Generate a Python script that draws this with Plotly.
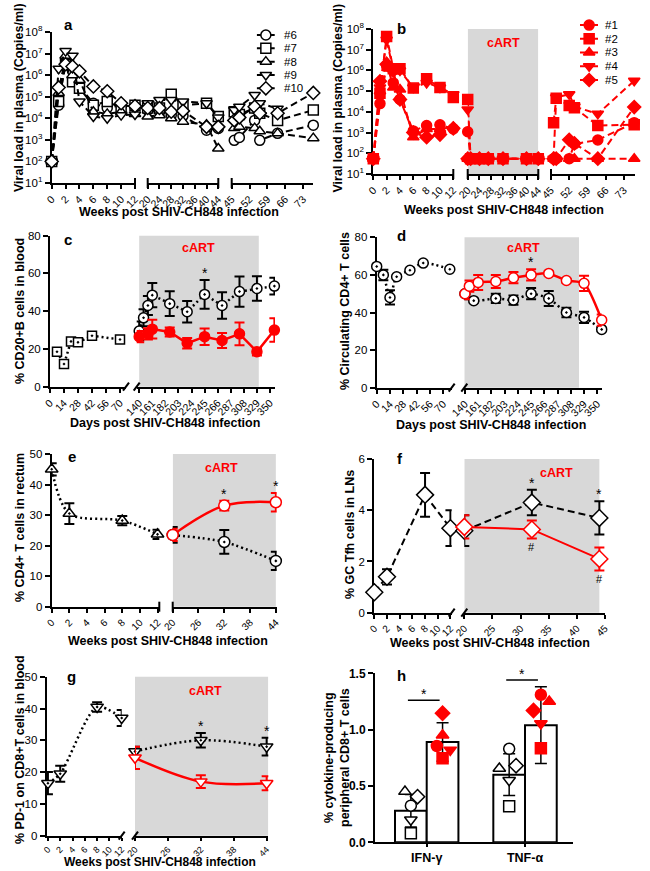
import math
import plotly.graph_objects as go

W, H = 650, 871
FONT = "Arial, Liberation Sans, Helvetica, sans-serif"
BLACK = "#000000"
RED = "#FF0000"
GREY = "#D8D8D8"
DASH = "7px,4px"
DOT = "2px,3px"

# ============================ DATA ============================
# (a) untreated animals #6-#10, plasma viral load (copies/ml)
a_weeks = [0, 1, 2, 3, 4, 6, 8, 10, 12, 20, 24, 28, 32, 40, 44, 46, 48, 54, 56, 63, 77]
a_lod = 100
a_ids = ["#6", "#7", "#8", "#9", "#10"]
a_vl6 = [100, 4e4, 5e6, 1.5e6, 3e5, 5e4, 3e4, 4e4, 3.5e4, 2.4e4, 2e4, 1.4e4, 1.3e4, 2.8e3, 3.4e3, 950, 1.3e3, 8e3, 950, 2e3, 4.8e3]
a_vl7 = [100, 6e4, 3e6, 5e5, 2.5e5, 4e4, 6e4, 3e4, 4e4, 3e4, 3e4, 1.3e5, 4e4, 5e4, 1.2e4, 2e4, 1.5e4, 3e4, 1.7e4, 8e3, 2.4e4]
a_vl8 = [100, 1.5e5, 8e6, 1e6, 6e5, 2e4, 1.6e4, 2e4, 1.6e4, 1.2e4, 1.4e4, 1e4, 7e3, 5e3, 400, 3.5e3, 4e3, 3.5e3, 2.5e3, 2e3, 1.2e3]
a_vl9 = [100, 2e6, 1.3e7, 8e6, 6e4, 1.2e4, 1e4, 1.4e4, 1.5e4, 5e4, 7e4, 7e4, 6e4, 5e4, 1.1e4, 2.4e4, 3.4e4, 1.2e5, 5e4, 2.8e4, None]
a_vl10 = [100, 2.7e5, 3.2e6, 2.5e6, 1.5e6, 3e5, 1.8e5, 5e4, 3.7e4, 3e4, 3e4, 2e4, 2.2e4, 4e3, 4e3, 8e3, 1.1e4, 3.4e4, 1.7e4, 1.7e4, 1.5e5]

# (b) cART-treated animals #1-#5
b_weeks = [0, 1, 2, 3, 4, 6, 8, 10, 12, 20, 21, 24, 27, 32, 40, 44, 46, 47, 52, 54, 63, 77]
b_lod = 55
b_ids = ["#1", "#2", "#3", "#4", "#5"]
b_vl1 = [55, 2.5e4, 1.7e6, 2.5e5, 4e4, 1.2e3, 2.2e3, 2.4e3, 1.5e3, 1.1e3, 55, 55, 55, 55, 55, 55, 55, 55, 55, 280, 440, 3e3]
b_vl2 = [55, 8e4, 4.4e7, 1.2e6, 1.2e6, 1.4e5, 4e5, 1.5e5, 5e4, 4e4, 55, 55, 55, 55, 55, 55, 3e3, 4.5e4, 2e4, 1.6e4, 2.2e3, 2.4e3]
b_vl3 = [55, 1e5, 2.5e6, 1.5e5, 1.2e5, 600, 1.5e3, 1.5e3, 1.8e3, 55, 55, 55, 55, 55, 55, 55, 55, 55, 55, 55, 55, 55]
b_vl4 = [55, 1.5e5, 3e7, 1e6, 1e6, 1.5e5, 2.5e5, 1.5e5, 7e4, 1.3e4, 55, 55, 55, 55, 55, 55, 55, 5e4, 7e4, 1.8e4, 8e3, 3.2e5]
b_vl5 = [55, 3e5, 2e6, 1e6, 4e4, 1e3, 600, 800, 1.6e3, 55, 55, 55, 55, 55, 55, 55, 55, 55, 450, 300, 55, 1.7e4]
b_cart = [20, 44]

# (c) % CD20+ B cells in blood (days)
c_days_pre = [7, 14, 21, 28, 42, 70]
c_pre = [18.5, 12, 24, 23.5, 27, 25]
c_days_untx = [140, 147, 154, 161, 189, 217, 245, 273, 301, 329, 357]
c_untx = [29.5, 36.5, 43, 48.5, 44, 39.7, 48.9, 43, 50.4, 52, 53.3]
c_untx_sd = [5, 4.5, 5, 6.4, 6.6, 5.7, 7.6, 7, 8, 6.5, 4.4]
c_days_cart = [140, 154, 161, 189, 217, 245, 273, 301, 329, 357]
c_cart = [26.5, 28, 30.5, 29, 23, 26.5, 24.5, 28, 18.5, 30]
c_cart_sd = [3, 3, 5, 2.4, 2.8, 4.4, 4, 6, 2, 6.2]
c_star_days = [245]
c_cart_period = [140, 332]

# (d) % circulating CD4+ T cells (days)
d_days_pre = [0, 7, 14, 21, 35, 49, 77]
d_pre = [64.5, 60, 48, 59, 62.5, 66.3, 63]
d_pre_sd = [0, 2.8, 3.8, 0, 0, 0, 0]
d_days_untx = [140, 154, 189, 217, 245, 273, 301, 329, 357]
d_untx = [50, 46.3, 47.5, 46.6, 50, 47.5, 40, 37.4, 31]
d_untx_sd = [3, 1, 2.5, 2.5, 3, 4, 2.5, 3, 1]
d_days_cart = [140, 147, 161, 189, 217, 245, 273, 301, 329, 357]
d_cart = [50, 54, 56, 56.5, 58.5, 60, 60.8, 57, 55.5, 36]
d_cart_sd = [3, 3, 4, 3.5, 3, 3, 1, 1, 4, 3]
d_star_days = [245]
d_cart_period = [139, 321]

# (e) % CD4+ T cells in rectum (weeks)
e_wk_pre = [0, 2, 8, 12]
e_pre = [45, 30.5, 28.2, 23.7]
e_pre_sd = [2, 3.4, 1.5, 1.5]
e_wk_post = [20, 32, 44]
e_untx = [23.5, 21.2, 15]
e_untx_sd = [2.6, 3.9, 3]
e_cart = [23.5, 33.1, 34.2]
e_cart_sd = [2, 1.6, 3]
e_star_wk = [32, 44]
e_cart_period = [20, 44]

# (f) % GC Tfh cells in LNs (weeks)
f_wk_pre = [0, 2, 8, 12]
f_pre = [0.8, 1.4, 4.6, 3.3]
f_pre_sd = [0.05, 0.3, 0.85, 0.7]
f_wk_post = [20, 32, 44]
f_untx = [3.2, 4.3, 3.7]
f_untx_sd = [0.6, 0.5, 0.65]
f_cart = [3.35, 3.25, 2.1]
f_cart_sd = [0.45, 0.35, 0.45]
f_star_wk = [32, 44]
f_hash_wk = [32, 44]
f_cart_period = [20, 44]

# (g) % PD-1 on CD8+ T cells in blood (weeks)
g_wk_pre = [0, 2, 8, 12]
g_pre = [16.5, 19.5, 40.5, 37]
g_pre_sd = [3.5, 2.5, 1.5, 2.5]
g_wk_post = [20, 32, 44]
g_untx = [26.5, 30, 28]
g_untx_sd = [1.5, 2.3, 2.8]
g_cart = [24.5, 17, 16.5]
g_cart_sd = [3.5, 2, 2.2]
g_star_wk = [32, 44]
g_cart_period = [20, 44.3]

# (h) % cytokine-producing peripheral CD8+ T cells
h_cats = ["IFN-γ", "TNF-α"]
h_bar_untx = [0.28, 0.60]
h_sd_untx = [0.145, 0.185]
h_bar_cart = [0.89, 1.04]
h_sd_cart = [0.17, 0.34]
h_ifn_untx = [0.325, 0.08, 0.45, 0.2, 0.405]    # #6..#10
h_ifn_cart = [0.855, 0.745, 0.95, 0.82, 1.145]  # #1..#5
h_tnf_untx = [0.83, 0.32, 0.655, 0.55, 0.68]
h_tnf_cart = [1.31, 0.835, 1.25, 1.055, 1.17]
h_sig_y = [1.26, 1.44]

# ============================ HELPERS ============================
fig = go.Figure()
L = dict(width=W, height=H, margin=dict(l=0, r=0, t=0, b=0, pad=0), template="none",
         paper_bgcolor="white", plot_bgcolor="rgba(0,0,0,0)", showlegend=False,
         barmode="overlay", font=dict(family=FONT, color=BLACK, size=11))
shapes, annos = [], []

TITLE = 12.5


def fx(p):
    return p / W


def fy(p):
    return 1 - p / H


def akey(ref):
    return ("xaxis" if ref[0] == "x" else "yaxis") + ref[1:]


TFX = dict(family=FONT, size=10.5, color=BLACK)
TFY = dict(family=FONT, size=11.5, color=BLACK)


def set_x(ref, a, b, rng, vals, anchor, angle=-45, text=None, font=None, ticklen=4):
    L[akey(ref)] = dict(domain=[a / W, b / W], range=rng, anchor=anchor, showline=True, linewidth=2,
                        linecolor=BLACK, ticks="outside", ticklen=ticklen, tickwidth=2, tickcolor=BLACK,
                        tickmode="array", tickvals=vals,
                        ticktext=text if text else [str(v) for v in vals],
                        tickangle=angle, tickfont=font or TFX, showgrid=False, zeroline=False,
                        automargin=False, layer="below traces")


def set_y(ref, t, b, rng, vals, anchor, text=None, typ="linear", font=None):
    L[akey(ref)] = dict(domain=[1 - b / H, 1 - t / H], range=rng, type=typ, anchor=anchor,
                        showline=True, linewidth=2, linecolor=BLACK, ticks="outside", ticklen=5,
                        tickwidth=2, tickcolor=BLACK, tickmode="array", tickvals=vals,
                        ticktext=text if text else [str(v) for v in vals], tickfont=font or TFY,
                        showgrid=False, zeroline=False, automargin=False, layer="below traces")


def hidden_axes(xref, yref, xa, xb, yt, yb, yrange):
    L[akey(xref)] = dict(domain=[xa / W, xb / W], range=[0, 1], anchor=yref, visible=False,
                         showticklabels=False, showgrid=False, zeroline=False)
    L[akey(yref)] = dict(domain=[1 - yb / H, 1 - yt / H], range=yrange, anchor=xref, visible=False,
                         showticklabels=False, showgrid=False, zeroline=False)


def split(xs, ys, lo, hi):
    ox, oy = [], []
    for x, y in zip(xs, ys):
        if lo <= x <= hi:
            ox.append(x)
            oy.append(y)
    return ox, oy


def series(x, y, xr, yr, color, symbol, size, fill, dash="solid", width=2, shape="linear",
           err=None, mlw=1.5, mode="lines+markers", smoothing=1.0):
    line = dict(color=color, width=width, dash=dash, shape=shape)
    if shape == "spline":
        line["smoothing"] = smoothing
    kw = dict(x=x, y=y, xaxis=xr, yaxis=yr, mode=mode, line=line,
              marker=dict(symbol=symbol, size=size, color=fill, line=dict(color=color, width=mlw)),
              cliponaxis=False, hoverinfo="skip", showlegend=False)
    if err is not None:
        kw["error_y"] = dict(type="data", array=err, visible=True, color=color, thickness=2, width=5)
    fig.add_trace(go.Scatter(**kw))


def text(x, y, s, size=TITLE, color=BLACK, bold=True, angle=0, xanchor="center", yanchor="middle"):
    annos.append(dict(xref="paper", yref="paper", x=fx(x), y=fy(y), text=s, showarrow=False,
                      textangle=angle, xanchor=xanchor, yanchor=yanchor,
                      font=dict(family=FONT, size=size, color=color,
                                weight="bold" if bold else "normal")))


def mark(xr, yr, x, y, s, size=14, yanchor="bottom", yshift=-3):
    annos.append(dict(xref=xr, yref=yr, x=x, y=y, text=s, showarrow=False, xanchor="center",
                      yanchor=yanchor, yshift=yshift,
                      font=dict(family=FONT, size=size, color=BLACK)))


def cart_rect(xr, yr, period):
    shapes.append(dict(type="rect", xref=xr, yref=yr + " domain", x0=period[0], x1=period[1],
                       y0=0, y1=1, fillcolor=GREY, line=dict(width=0), layer="below"))


def end_bar(px, py):
    shapes.append(dict(type="line", xref="paper", yref="paper", x0=fx(px), x1=fx(px),
                       y0=fy(py - 5), y1=fy(py + 5), line=dict(color=BLACK, width=2)))


def slash(px, py):
    shapes.append(dict(type="line", xref="paper", yref="paper", x0=fx(px - 3), x1=fx(px + 3),
                       y0=fy(py + 4), y1=fy(py - 4), line=dict(color=BLACK, width=2)))


def top_of(xs, vals, sds, x):
    i = xs.index(x)
    return vals[i] + sds[i]


SYM = ["circle", "square", "triangle-up", "triangle-down", "diamond"]

# ============================ PANEL a ============================
LOGT = [10 ** k for k in range(1, 9)]
LOGTXT = [f"10<sup>{k}</sup>" for k in range(1, 9)]
set_y("y", 32, 183, [1, 8], LOGT, "x", text=LOGTXT, typ="log")
set_x("x", 51.7, 135, [0, 12], [0, 2, 4, 6, 8, 10, 12], "y")
set_x("x2", 147.7, 218.3, [20, 44], [20, 24, 28, 32, 36, 40, 44], "y")
set_x("x3", 231.7, 313.3, [45, 77], [45, 52, 59, 66, 73], "y")
shapes.append(dict(type="line", xref="paper", yref="y", x0=fx(51.7), x1=fx(318),
                   y0=math.log10(a_lod), y1=math.log10(a_lod),
                   line=dict(color=BLACK, width=2, dash="dot"), layer="below"))
for vals, sym in zip([a_vl6, a_vl7, a_vl8, a_vl9, a_vl10], SYM):
    for xr, lo, hi in [("x", 0, 12), ("x2", 20, 44), ("x3", 45, 80)]:
        xs, ys = split(a_weeks, vals, lo, hi)
        series(xs, ys, xr, "y", BLACK, sym, 10, "white", dash=DASH, width=2)
for p in [135, 147.7, 218.3, 231.7]:
    end_bar(p, 183)
# legend a
hidden_axes("x18", "y9", 256.7, 275, 28.3, 95, [4.5, -0.5])
for i, (sym, name) in enumerate(zip(SYM, a_ids)):
    series([0, 1], [i, i], "x18", "y9", BLACK, sym, 10, "white", dash=DASH, mode="lines")
    series([0.5], [i], "x18", "y9", BLACK, sym, 10, "white", mode="markers")
    annos.append(dict(xref="x18", yref="y9", x=1, y=i, text=name, showarrow=False, xanchor="left",
                      xshift=7, font=dict(family=FONT, size=11.5, color=BLACK)))
text(19, 98, "Viral load in plasma (Copies/ml)", angle=-90)
text(179, 212, "Weeks post SHIV-CH848 infection")
text(68, 25, "a", size=15)

# ============================ PANEL b ============================
set_y("y2", 29, 174, [1, 8], LOGT, "x4", text=LOGTXT, typ="log")
set_x("x4", 373.3, 453.3, [0, 12], [0, 2, 4, 6, 8, 10, 12], "y2")
set_x("x5", 467.7, 538.3, [20, 44], [20, 24, 28, 32, 36, 40, 44], "y2")
set_x("x6", 551, 635, [45, 77.3], [45, 52, 59, 66, 73], "y2")
cart_rect("x5", "y2", b_cart)
shapes.append(dict(type="line", xref="paper", yref="y2", x0=fx(373.3), x1=fx(640),
                   y0=math.log10(b_lod), y1=math.log10(b_lod),
                   line=dict(color=BLACK, width=2, dash="dot"), layer="below"))
for vals, sym in zip([b_vl1, b_vl2, b_vl3, b_vl4, b_vl5], SYM):
    for xr, lo, hi in [("x4", 0, 12), ("x5", 20, 44), ("x6", 45, 80)]:
        xs, ys = split(b_weeks, vals, lo, hi)
        series(xs, ys, xr, "y2", RED, sym, 10, RED, dash=DASH, width=2)
for p in [453.3, 467.7, 538.3, 551]:
    end_bar(p, 174)
hidden_axes("x19", "y10", 580, 598.3, 18.2, 86.8, [4.5, -0.5])
for i, (sym, name) in enumerate(zip(SYM, b_ids)):
    series([0, 1], [i, i], "x19", "y10", RED, sym, 10, RED, dash=DASH, mode="lines")
    series([0.5], [i], "x19", "y10", RED, sym, 10, RED, mode="markers")
    annos.append(dict(xref="x19", yref="y10", x=1, y=i, text=name, showarrow=False, xanchor="left",
                      xshift=5, font=dict(family=FONT, size=11.5, color=BLACK)))
text(337.5, 98, "Viral load in plasma (Copies/ml)", angle=-90)
text(504, 210, "Weeks post SHIV-CH848 infection")
text(401.7, 28.3, "b", size=15)
text(503.3, 43.3, "cART", size=12.5, color=RED)

# ============================ PANEL c ============================
set_y("y3", 235.7, 386.7, [0, 80], [0, 20, 40, 60, 80], "x7")
set_x("x7", 50, 126, [0, 76], [0, 14, 28, 42, 56, 70], "y3")
set_x("x8", 136.7, 275, [136, 358], list(range(140, 351, 21)), "y3")
cart_rect("x8", "y3", c_cart_period)
series(c_days_pre, c_pre, "x7", "y3", BLACK, "square-dot", 9, "white", dash=DOT, width=2.5)
series(c_days_untx, c_untx, "x8", "y3", BLACK, "circle-dot", 10, "white", dash=DOT, width=2.5,
       err=c_untx_sd)
series(c_days_cart, c_cart, "x8", "y3", RED, "circle", 10, RED, width=2.5, err=c_cart_sd)
for d in c_star_days:
    mark("x8", "y3", d, top_of(c_days_untx, c_untx, c_untx_sd, d), "*")
slash(126, 386.7)
slash(136.7, 386.7)
text(20, 311, "% CD20+B cells in blood", angle=-90)
text(165, 423, "Days post SHIV-CH848 infection")
text(68.3, 239, "c", size=15)
text(198, 248, "cART", size=12.5, color=RED)

# ============================ PANEL d ============================
set_y("y4", 237.3, 387.7, [0, 80], [0, 20, 40, 60, 80], "x9")
set_x("x9", 376.7, 451.7, [0, 79], [0, 14, 28, 42, 56, 70], "y4")
set_x("x10", 464.3, 601.7, [139, 357], list(range(140, 351, 21)), "y4")
cart_rect("x10", "y4", d_cart_period)
series(d_days_pre, d_pre, "x9", "y4", BLACK, "circle-dot", 10, "white", dash=DOT, width=2.5,
       shape="spline", smoothing=0.8, err=d_pre_sd)
series(d_days_untx, d_untx, "x10", "y4", BLACK, "circle-dot", 10, "white", dash=DOT, width=2.5,
       shape="spline", smoothing=0.6, err=d_untx_sd)
series(d_days_cart, d_cart, "x10", "y4", RED, "circle", 10, "white", width=2.5,
       shape="spline", smoothing=0.6, err=d_cart_sd)
for d in d_star_days:
    mark("x10", "y4", d, top_of(d_days_cart, d_cart, d_cart_sd, d), "*")
slash(451.7, 387.7)
slash(464.3, 387.7)
text(345, 311, "% Circulating CD4+ T cells", angle=-90)
text(490.5, 425, "Days post SHIV-CH848 infection")
text(401.7, 235.7, "d", size=15)
text(523.3, 248.3, "cART", size=12.5, color=RED)

# ============================ PANEL e ============================
TFX_S = dict(family=FONT, size=10, color=BLACK)
TFX_XS = dict(family=FONT, size=9, color=BLACK)
set_y("y5", 454, 606.7, [0, 50], [0, 10, 20, 30, 40, 50], "x11")
set_x("x11", 51.7, 159.3, [0, 12.2], [0, 2, 4, 6, 8, 10, 12], "y5", font=TFX_S)
set_x("x12", 172.7, 276.7, [20, 44.2], [20, 26, 32, 38, 44], "y5", font=TFX_S)
cart_rect("x12", "y5", e_cart_period)
series(e_wk_pre, e_pre, "x11", "y5", BLACK, "triangle-up-dot", 11, "white", dash=DOT, width=2.5,
       shape="spline", smoothing=0.9, err=e_pre_sd)
series(e_wk_post, e_untx, "x12", "y5", BLACK, "circle-dot", 11, "white", dash=DOT, width=2.5,
       shape="spline", smoothing=0.8, err=e_untx_sd)
series(e_wk_post, e_cart, "x12", "y5", RED, "circle", 11, "white", width=2.5,
       shape="spline", smoothing=1.0, err=e_cart_sd)
for w in e_star_wk:
    mark("x12", "y5", w, top_of(e_wk_post, e_cart, e_cart_sd, w), "*")
end_bar(159.3, 606.7)
end_bar(172.7, 606.7)
text(20, 528, "% CD4+ T cells in rectum", angle=-90)
text(168, 641, "Weeks post SHIV-CH848 infection")
text(71.7, 456.7, "e", size=15)
text(221.7, 468, "cART", size=12.5, color=RED)

# ============================ PANEL f ============================
set_y("y6", 459, 612.7, [0, 6], [0, 2, 4, 6], "x13")
set_x("x13", 374.3, 451.7, [0, 12.2], [0, 2, 4, 6, 8, 10, 12], "y6", font=TFX_S)
set_x("x14", 464.3, 605, [20, 45], [20, 25, 30, 35, 40, 45], "y6", font=TFX_S)
cart_rect("x14", "y6", f_cart_period)
series(f_wk_pre, f_pre, "x13", "y6", BLACK, "diamond", 13, "white", dash=DASH, width=2,
       err=f_pre_sd)
series(f_wk_post, f_untx, "x14", "y6", BLACK, "diamond", 13, "white", dash=DASH, width=2,
       err=f_untx_sd)
series(f_wk_post, f_cart, "x14", "y6", RED, "diamond", 13, "white", width=2, err=f_cart_sd)
for w in f_star_wk:
    mark("x14", "y6", w, top_of(f_wk_post, f_untx, f_untx_sd, w), "*")
for w in f_hash_wk:
    i = f_wk_post.index(w)
    mark("x14", "y6", w, f_cart[i] - f_cart_sd[i], "#", size=11, yanchor="top", yshift=-1)
slash(451.7, 612.7)
slash(464.3, 612.7)
text(350, 535, "% GC Tfh cells in LNs", angle=-90)
text(490, 643, "Weeks post SHIV-CH848 infection")
text(400, 458, "f", size=15)
text(556, 473, "cART", size=12.5, color=RED)

# ============================ PANEL g ============================
set_y("y7", 676.7, 835.7, [0, 50], [0, 10, 20, 30, 40, 50], "x15")
set_x("x15", 46.7, 121.7, [-0.2, 12], [0, 2, 4, 6, 8, 10, 12], "y7", font=TFX_XS, ticklen=3)
set_x("x16", 135, 268.3, [20, 44.3], [20, 26, 32, 38, 44], "y7", font=TFX_XS, ticklen=3)
cart_rect("x16", "y7", g_cart_period)
series(g_wk_pre, g_pre, "x15", "y7", BLACK, "triangle-down-dot", 11, "white", dash=DOT, width=2.5,
       shape="spline", smoothing=0.8, err=g_pre_sd)
series(g_wk_post, g_untx, "x16", "y7", BLACK, "triangle-down-dot", 11, "white", dash=DOT,
       width=2.5, shape="spline", smoothing=1.0, err=g_untx_sd)
series(g_wk_post, g_cart, "x16", "y7", RED, "triangle-down", 11, "white", width=2.5,
       shape="spline", smoothing=1.0, err=g_cart_sd)
for w in g_star_wk:
    mark("x16", "y7", w, top_of(g_wk_post, g_untx, g_untx_sd, w), "*")
slash(121.7, 835.7)
slash(135, 835.7)
text(20, 750, "% PD-1 on CD8+T cells in blood", angle=-90)
text(160, 862, "Weeks post SHIV-CH848 infection", size=12)
text(71.7, 676.7, "g", size=15)
text(205, 690.7, "cART", size=12.5, color=RED)

# ============================ PANEL h ============================
cat_pos = list(range(len(h_cats)))
BW = 0.3225
OFF = BW / 2
set_y("y8", 673.3, 842.3, [0, 1.5], [0, 0.5, 1.0, 1.5], "x17", text=["0.0", "0.5", "1.0", "1.5"],
      font=dict(family=FONT, size=12, color=BLACK, weight="bold"))
set_x("x17", 375, 573, [-0.526, 1.488], cat_pos, "y8", angle=0, text=h_cats, ticklen=3,
      font=dict(family=FONT, size=12.5, color=BLACK, weight="bold"))
for sign, bars, sds in [(-1, h_bar_untx, h_sd_untx), (1, h_bar_cart, h_sd_cart)]:
    fig.add_trace(go.Bar(x=[c + sign * OFF for c in cat_pos], y=bars, width=BW, xaxis="x17",
                         yaxis="y8", marker=dict(color="white", line=dict(color=BLACK, width=2)),
                         error_y=dict(type="data", array=sds, visible=True, color=BLACK,
                                      thickness=1.5, width=6),
                         hoverinfo="skip", showlegend=False))
jit_ifn_untx = [0, 0, -0.06, 0, 0.068]
jit_ifn_cart = [-0.058, 0, 0, 0.078, 0]
jit_tnf_untx = [0, 0, -0.1, 0, 0.07]
jit_tnf_cart = [0, 0, 0.085, 0, -0.075]
for ci, sign, vals, jit, col, fill in [
        (0, -1, h_ifn_untx, jit_ifn_untx, BLACK, "white"),
        (0, 1, h_ifn_cart, jit_ifn_cart, RED, RED),
        (1, -1, h_tnf_untx, jit_tnf_untx, BLACK, "white"),
        (1, 1, h_tnf_cart, jit_tnf_cart, RED, RED)]:
    fig.add_trace(go.Scatter(x=[cat_pos[ci] + sign * OFF + j for j in jit], y=vals,
                             xaxis="x17", yaxis="y8", mode="markers",
                             marker=dict(symbol=SYM, size=11, color=fill,
                                         line=dict(color=col, width=1.5)),
                             cliponaxis=False, hoverinfo="skip", showlegend=False))
for ci, sy in zip(cat_pos, h_sig_y):
    shapes.append(dict(type="line", xref="x17", yref="y8", x0=ci - OFF - 0.03, x1=ci + OFF - 0.03,
                       y0=sy, y1=sy, line=dict(color=BLACK, width=1.5)))
    mark("x17", "y8", ci - 0.03, sy, "*", yshift=-4)
text(337, 758, "% cytokine-producing<br>peripheral CD8+ T cells", angle=-90)
text(401.7, 675, "h", size=15)

L["shapes"] = shapes
L["annotations"] = annos
fig.update_layout(**L)
fig.write_html("out.html", config={"displayModeBar": False, "staticPlot": True},
               post_script="document.body.style.margin='0px';")
